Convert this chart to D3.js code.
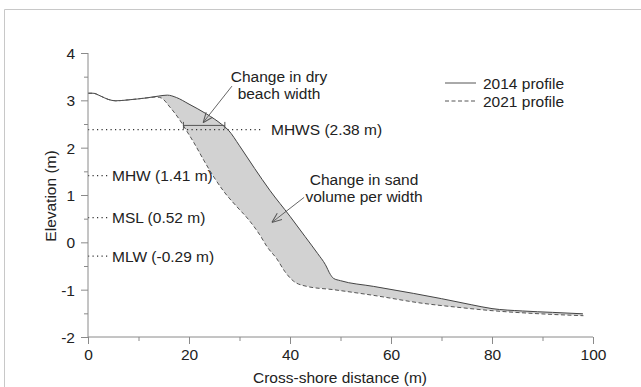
<!DOCTYPE html>
<html>
<head>
<meta charset="utf-8">
<script src="https://cdn.jsdelivr.net/npm/d3@7"></script>
<style>
  html, body { margin: 0; padding: 0; background: #fff; }
  svg { display: block; font-family: "Liberation Sans", Arial, sans-serif; }
</style>
</head>
<body>
<svg id="chart" width="641" height="387"></svg>
<script>
// Beach profile surveys: cross-shore distance (m) and elevation (m)
const dist2014 = [0, 1, 2.5, 4, 5.5, 8, 11.5, 14, 15.7, 17.5, 20, 23.5, 26.5, 27.8, 30, 33, 36, 40, 43, 45.5, 47, 48, 48.6, 50, 56.5, 64.5, 70, 76, 80, 86, 92, 98];
const elev2014 = [3.15, 3.15, 3.09, 3.02, 2.99, 3.01, 3.05, 3.09, 3.11, 3.06, 2.92, 2.71, 2.49, 2.37, 2.04, 1.56, 1.10, 0.55, 0.12, -0.24, -0.47, -0.68, -0.76, -0.81, -0.93, -1.08, -1.19, -1.32, -1.40, -1.45, -1.48, -1.51];
const dist2021 = [0, 1, 2.5, 4, 5.5, 8, 11.5, 13.5, 14.5, 16.2, 18.2, 19.5, 21, 23, 24.8, 27, 29.5, 31.8, 34, 35.5, 37.4, 39, 40.7, 43.3, 48.6, 56.5, 66.4, 73, 79.6, 89.5, 98.1];
const elev2021 = [3.15, 3.15, 3.09, 3.02, 2.99, 3.01, 3.05, 3.07, 3.05, 2.86, 2.58, 2.36, 2.10, 1.72, 1.40, 1.06, 0.75, 0.48, 0.16, -0.10, -0.35, -0.62, -0.82, -0.93, -1.00, -1.12, -1.29, -1.37, -1.44, -1.51, -1.55];

// Tidal datums
const datumNames = ["MHWS", "MHW", "MSL", "MLW"];
const datumValues = [2.38, 1.41, 0.52, -0.29];

// Dry beach width measured between the two profiles
const dryWidthFrom = 18.9;
const dryWidthTo = 27.1;
const dryWidthElev = 2.47;

// Axis ticks
const xMajorTicks = [0, 20, 40, 60, 80, 100];
const xMinorTicks = [10, 30, 50, 70, 90];
const yMajorTicks = [-2, -1, 0, 1, 2, 3, 4];
const yMinorTicks = [-1.5, -0.5, 0.5, 1.5, 2.5, 3.5];

const seriesNames = ["2014 profile", "2021 profile"];

const svg = d3.select("#chart");
const x = d3.scaleLinear().domain([0, 100]).range([88, 593]);
const y = d3.scaleLinear().domain([-2, 4]).range([337, 53]);

const axisColor = "#8a8a8a";
const textColor = "#222";
const fontSize = 15.5;

// Outer frame (top and left edges)
svg.append("path")
  .attr("d", "M4.5,387 L4.5,9.5 L641,9.5")
  .attr("fill", "none").attr("stroke", "#c8c8c8").attr("stroke-width", 1);

const p2014 = dist2014.map((d, i) => [d, elev2014[i]]);
const p2021 = dist2021.map((d, i) => [d, elev2021[i]]);

const line = d3.line().x(d => x(d[0])).y(d => y(d[1])).curve(d3.curveMonotoneX);

// Shaded area between the two profiles
const areaPath = line(p2014) + "L" + line(p2021.slice().reverse()).slice(1) + "Z";
svg.append("path")
  .attr("d", areaPath)
  .attr("fill", "#d2d2d2").attr("stroke", "none");

// Datum lines and labels
const datumLineEnd = [262, 110, 110, 110];
datumNames.forEach((name, i) => {
  const yy = y(datumValues[i]);
  svg.append("line")
    .attr("x1", x(0)).attr("x2", datumLineEnd[i])
    .attr("y1", yy).attr("y2", yy)
    .attr("stroke", "#333").attr("stroke-width", 1.2)
    .attr("stroke-dasharray", "1.2,3.3");
  svg.append("text")
    .attr("x", datumLineEnd[i] + (i === 0 ? 9 : 2)).attr("y", yy + 5.5)
    .attr("font-size", fontSize).attr("fill", textColor)
    .text(`${name} (${datumValues[i].toFixed(2)} m)`);
});

// Profiles
svg.append("path").attr("d", line(p2014))
  .attr("fill", "none").attr("stroke", "#444").attr("stroke-width", 1);
svg.append("path").attr("d", line(p2021))
  .attr("fill", "none").attr("stroke", "#555").attr("stroke-width", 1)
  .attr("stroke-dasharray", "4,2.5");

// Dry beach width bar
const by = y(dryWidthElev);
svg.append("line").attr("x1", x(dryWidthFrom)).attr("x2", x(dryWidthTo))
  .attr("y1", by).attr("y2", by).attr("stroke", "#555").attr("stroke-width", 1);
[dryWidthFrom, dryWidthTo].forEach(v => {
  svg.append("line").attr("x1", x(v)).attr("x2", x(v))
    .attr("y1", by - 3.5).attr("y2", by + 3.5).attr("stroke", "#555").attr("stroke-width", 1);
});

// Annotation arrows
const defs = svg.append("defs");
defs.append("marker").attr("id", "arrow")
  .attr("viewBox", "0 0 10 10").attr("refX", 10).attr("refY", 5)
  .attr("markerWidth", 10).attr("markerHeight", 10)
  .attr("markerUnits", "userSpaceOnUse").attr("orient", "auto")
  .append("path").attr("d", "M0,1 L10,5 L0,9")
  .attr("fill", "none").attr("stroke", "#555").attr("stroke-width", 1);

function arrow(x1, y1, x2, y2) {
  svg.append("line")
    .attr("x1", x(x1)).attr("y1", y(y1)).attr("x2", x(x2)).attr("y2", y(y2))
    .attr("stroke", "#555").attr("stroke-width", 0.9)
    .attr("marker-end", "url(#arrow)");
}
arrow(28.5, 3.3, 22.8, 2.53);
arrow(42.8, 0.95, 36.4, 0.42);

function label(lines, cx, y0) {
  const t = svg.append("text").attr("text-anchor", "middle")
    .attr("font-size", fontSize).attr("fill", textColor);
  lines.forEach((s, i) => t.append("tspan").attr("x", cx).attr("y", y0 + i * 16.5).text(s));
}
label(["Change in dry", "beach width"], 279, 82);
label(["Change in sand", "volume per width"], 364, 185);

// Axes
svg.append("line").attr("x1", x(0)).attr("x2", x(0)).attr("y1", y(4)).attr("y2", y(-2))
  .attr("stroke", axisColor);
svg.append("line").attr("x1", x(0)).attr("x2", x(100)).attr("y1", y(-2)).attr("y2", y(-2))
  .attr("stroke", axisColor);

const fmt = d3.format("d");
const xa = svg.append("g").attr("transform", `translate(0,${y(-2)})`)
  .call(d3.axisBottom(x).tickValues(xMajorTicks).tickSize(7).tickPadding(5).tickFormat(fmt));
const xm = svg.append("g").attr("transform", `translate(0,${y(-2)})`)
  .call(d3.axisBottom(x).tickValues(xMinorTicks).tickSize(4).tickFormat(""));
const ya = svg.append("g").attr("transform", `translate(${x(0)},0)`)
  .call(d3.axisLeft(y).tickValues(yMajorTicks).tickSize(7).tickPadding(6).tickFormat(fmt));
const ym = svg.append("g").attr("transform", `translate(${x(0)},0)`)
  .call(d3.axisLeft(y).tickValues(yMinorTicks).tickSize(4).tickFormat(""));
[xa, xm, ya, ym].forEach(a => {
  a.select(".domain").remove();
  a.selectAll(".tick line").attr("stroke", axisColor);
  a.selectAll(".tick text").attr("font-size", fontSize).attr("fill", textColor)
    .attr("font-family", "Liberation Sans, Arial, sans-serif");
});
ya.selectAll(".tick text").attr("dy", "0.36em");
// axis minus signs drawn as plain hyphens
ya.selectAll(".tick text").text(d => String(d));

svg.append("text").attr("x", 340).attr("y", 383).attr("text-anchor", "middle")
  .attr("font-size", fontSize).attr("fill", textColor).text("Cross-shore distance (m)");
svg.append("text").attr("transform", "translate(56,196) rotate(-90)")
  .attr("text-anchor", "middle").attr("font-size", fontSize).attr("fill", textColor)
  .text("Elevation (m)");

// Legend
const legend = svg.append("g");
[0, 1].forEach(i => {
  const ly = 83 + i * 18;
  legend.append("line").attr("x1", 445).attr("x2", 476).attr("y1", ly).attr("y2", ly)
    .attr("stroke", "#555").attr("stroke-width", 1)
    .attr("stroke-dasharray", i === 1 ? "4,2.5" : null);
  legend.append("text").attr("x", 483).attr("y", ly + 5.5)
    .attr("font-size", fontSize).attr("fill", textColor).text(seriesNames[i]);
});
</script>
</body>
</html>
